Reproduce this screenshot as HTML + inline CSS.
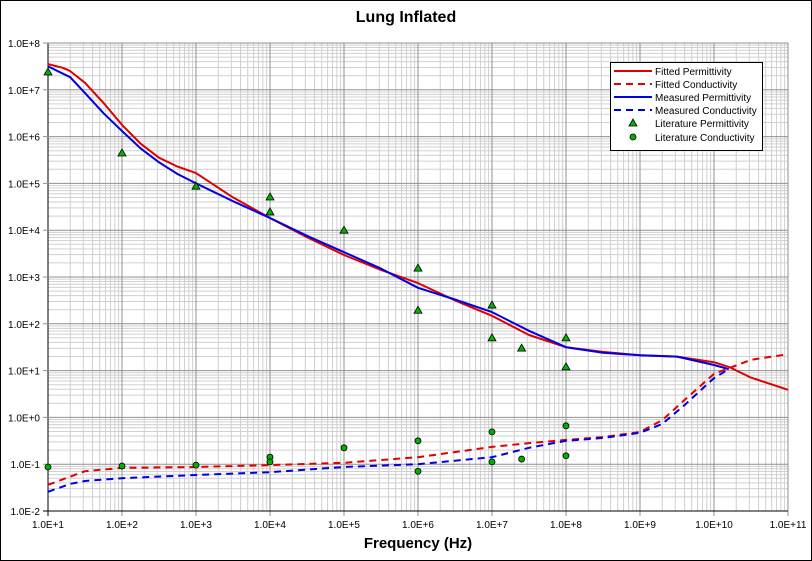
<!DOCTYPE html>
<html><head><meta charset="utf-8"><style>
body{margin:0;background:#fff}
svg{display:block;font-family:"Liberation Sans",Arial,sans-serif}
</style></head><body>
<svg id="chart" width="812" height="561" viewBox="0 0 812 561">
<rect x="0.5" y="0.5" width="811" height="560" fill="#fff" stroke="#000"/>
<text x="406" y="22" text-anchor="middle" font-size="16" font-weight="bold">Lung Inflated</text>
<g id="grid"></g>
<g id="axes"></g>
<g id="series"></g>
<text x="418" y="548" text-anchor="middle" font-size="15" font-weight="bold">Frequency (Hz)</text>
<g>
<rect x="610.5" y="62.5" width="152" height="88" fill="#fff" stroke="#000"/>
<line x1="614" y1="71" x2="652" y2="71" stroke="#e00000" stroke-width="2"/>
<text x="655" y="75" font-size="10">Fitted Permittivity</text>
<line x1="614" y1="84" x2="652" y2="84" stroke="#e00000" stroke-width="2" stroke-dasharray="7,5"/>
<text x="655" y="88" font-size="10">Fitted Conductivity</text>
<line x1="614" y1="97" x2="652" y2="97" stroke="#0000e0" stroke-width="2"/>
<text x="655" y="101" font-size="10">Measured Permittivity</text>
<line x1="614" y1="110" x2="652" y2="110" stroke="#0000e0" stroke-width="2" stroke-dasharray="7,5"/>
<text x="655" y="114" font-size="10">Measured Conductivity</text>
<polygon points="633,119 629,126 637,126" fill="#00b000" stroke="#000" stroke-width="0.8"/>
<text x="655" y="127" font-size="10">Literature Permittivity</text>
<circle cx="633" cy="137" r="3" fill="#00b000" stroke="#000" stroke-width="0.8"/>
<text x="655" y="141" font-size="10">Literature Conductivity</text>
</g>
</svg>
<script>
// log10 frequency and log10 values
const fpX = [1,1.2,1.3,1.5,1.75,2,2.25,2.5,2.75,3,3.5,4,4.5,5,5.5,6,6.5,7,7.5,8,8.5,9,9.5,10,10.2,10.5,11];
const fpY = [7.55,7.47,7.4,7.15,6.72,6.25,5.85,5.55,5.36,5.22,4.7,4.26,3.85,3.47,3.15,2.87,2.5,2.17,1.76,1.5,1.4,1.33,1.3,1.18,1.08,0.85,0.59];
const mpX = [1,1.3,1.5,1.75,2,2.25,2.5,2.75,3,3.5,4,4.5,5,5.5,6,6.5,7,7.5,8,8.5,9,9.5,10,10.2];
const mpY = [7.5,7.27,6.93,6.5,6.12,5.75,5.45,5.2,5.0,4.62,4.26,3.88,3.53,3.18,2.77,2.52,2.25,1.85,1.5,1.38,1.33,1.3,1.12,1.03];
const fcX = [1,1.5,2,3,4,5,6,7,7.5,8,8.5,9,9.3,9.6,10,10.5,11];
const fcY = [-1.44,-1.15,-1.08,-1.06,-1.02,-0.97,-0.85,-0.63,-0.55,-0.48,-0.42,-0.31,-0.06,0.37,0.93,1.23,1.35];
const mcX = [1,1.3,1.5,2,3,4,5,6,7,7.5,8,8.5,9,9.3,9.6,10,10.2];
const mcY = [-1.59,-1.42,-1.36,-1.30,-1.23,-1.17,-1.06,-1.0,-0.85,-0.65,-0.5,-0.44,-0.33,-0.14,0.26,0.84,1.03];
const lpX = [1,2,3,4,4,5,6,6,7,7,7.4,8,8];
const lpY = [7.38,5.65,4.94,4.71,4.39,4.0,3.19,2.29,2.4,1.7,1.48,1.7,1.08];
const lcX = [1,2,3,4,4,5,6,6,7,7,7.4,8,8];
const lcY = [-1.06,-1.04,-1.02,-0.85,-0.95,-0.65,-0.5,-1.15,-0.31,-0.95,-0.89,-0.18,-0.82];
const xTicks = ["1.0E+1","1.0E+2","1.0E+3","1.0E+4","1.0E+5","1.0E+6","1.0E+7","1.0E+8","1.0E+9","1.0E+10","1.0E+11"];
const yTicks = ["1.0E-2","1.0E-1","1.0E+0","1.0E+1","1.0E+2","1.0E+3","1.0E+4","1.0E+5","1.0E+6","1.0E+7","1.0E+8"];

const X0=48,X1=788,Y0=511,Y1=43;
const sx = v => X0 + (v-1)/10*(X1-X0);
const sy = v => Y0 - (v+2)/10*(Y0-Y1);
const NS="http://www.w3.org/2000/svg";
function mk(tag, parent, at){const e=document.createElementNS(NS,tag);for(const k in at)e.setAttribute(k,at[k]);parent.appendChild(e);return e;}
const grid=document.getElementById('grid'), axes=document.getElementById('axes'), ser=document.getElementById('series');
for(let d=0; d<10; d++){
  for(let m=2;m<=9;m++){
    const lx=sx(1+d+Math.log10(m));
    const l=mk('line',grid,{x1:lx,x2:lx,y1:Y1,y2:Y0,stroke:'#d0d0d0','stroke-width':1});
    
    
    const ly=sy(-2+d+Math.log10(m));
    const l2=mk('line',grid,{x1:X0,x2:X1,y1:ly,y2:ly,stroke:'#d0d0d0','stroke-width':1});
    
    
  }
}
xTicks.forEach((t,i)=>{
  const lx=sx(1+i);
  const l=mk('line',grid,{x1:lx,x2:lx,y1:Y1,y2:Y0+5,stroke:i==0?'#000':'#909090','stroke-width':1});
  
  
  const tx=mk('text',axes,{x:lx,y:528,'text-anchor':'middle','font-size':10});
  tx.textContent=t;
  
  
});
yTicks.forEach((t,i)=>{
  const ly=sy(-2+i);
  const l=mk('line',grid,{x1:X0-5,x2:X1,y1:ly,y2:ly,stroke:i==0?'#000':'#909090','stroke-width':1});
  
  
  const tx=mk('text',axes,{x:40,y:ly+4,'text-anchor':'end','font-size':10});
  tx.textContent=t;
  
  
});
function line(xs,ys,color,dash,name){
  const p=xs.map((v,i)=>sx(v).toFixed(1)+','+sy(ys[i]).toFixed(1)).join(' ');
  const e=mk('polyline',ser,{points:p,fill:'none',stroke:color,'stroke-width':2,'stroke-linejoin':'round'});
  if(dash)e.setAttribute('stroke-dasharray','7,5');
  
  
}
line(fcX,fcY,'#e00000',true,'fitted-conductivity-line');
line(mcX,mcY,'#0000e0',true,'measured-conductivity-line');
line(fpX,fpY,'#e00000',false,'fitted-permittivity-line');
line(mpX,mpY,'#0000e0',false,'measured-permittivity-line');
lpX.forEach((v,i)=>{
  const cx=sx(v),cy=sy(lpY[i]);
  const e=mk('polygon',ser,{points:`${cx},${cy-4} ${cx-4},${cy+3} ${cx+4},${cy+3}`,fill:'#00b000',stroke:'#000','stroke-width':0.8});
  
  
});
lcX.forEach((v,i)=>{
  const e=mk('circle',ser,{cx:sx(v),cy:sy(lcY[i]),r:3,fill:'#00b000',stroke:'#000','stroke-width':0.8});
  
  
});
</script>
</body></html>
